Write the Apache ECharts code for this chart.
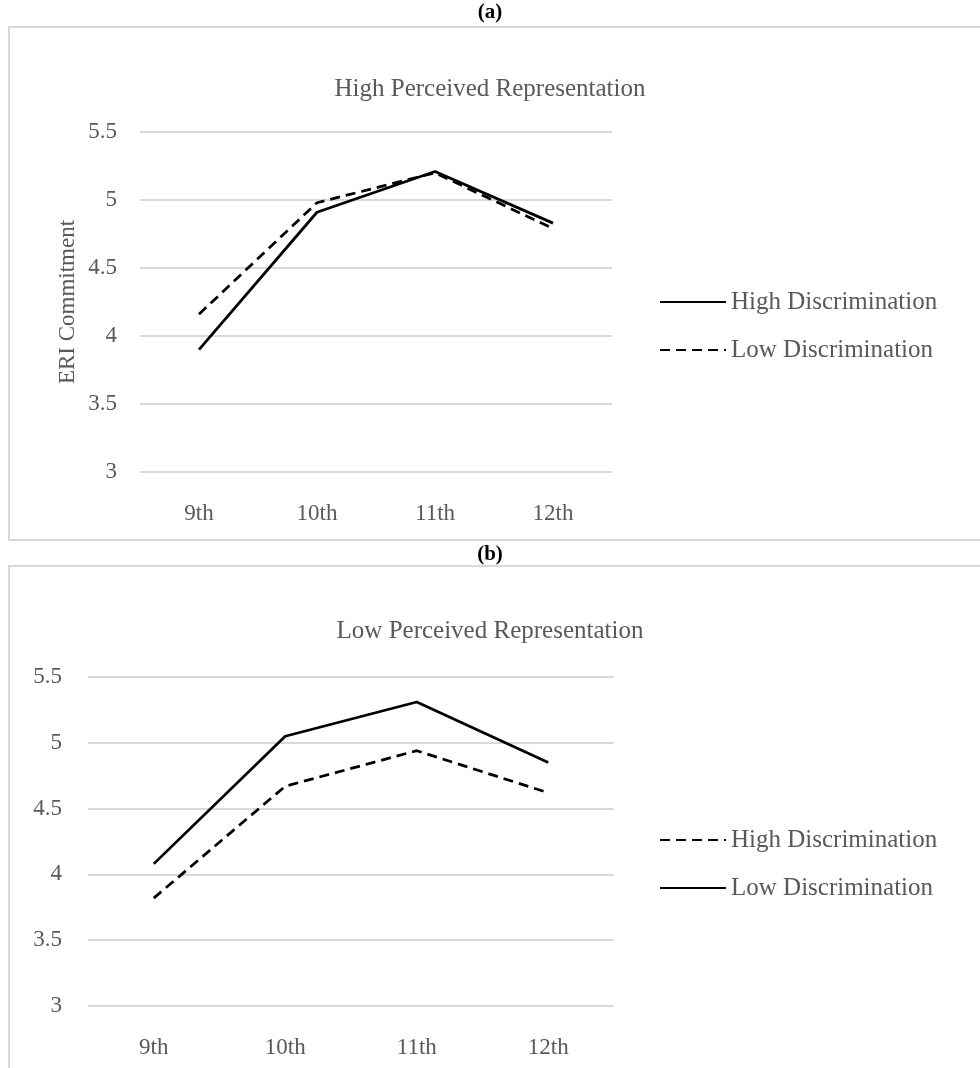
<!DOCTYPE html>
<html>
<head>
<meta charset="utf-8">
<script src="https://cdn.jsdelivr.net/npm/echarts@6/dist/echarts.min.js"></script>
<style>
  html, body { margin: 0; padding: 0; background: #fff; }
  #ca { position: absolute; left: 0; top: 0; width: 980px; height: 545px; }
  #cb { position: absolute; left: 0; top: 545px; width: 980px; height: 523px; }
</style>
</head>
<body>
<div id="ca"></div>
<div id="cb"></div>
<script>
// ---- data ----
const categories = ['9th', '10th', '11th', '12th'];
const seriesNames = ['High Discrimination', 'Low Discrimination'];
// Panel (a): High Perceived Representation
const aHighDisc = [3.90, 4.91, 5.21, 4.83];
const aLowDisc  = [4.16, 4.98, 5.20, 4.79];
// Panel (b): Low Perceived Representation
const bHighDisc = [3.82, 4.67, 4.94, 4.62];
const bLowDisc  = [4.08, 5.05, 5.31, 4.85];
const yMin = 3, yMax = 5.5, yStep = 0.5;

const FONT = '"Liberation Serif", "DejaVu Serif", serif';
const GREY = '#595959';
const GRID = '#d9d9d9';

function solid() { return { color: '#000', width: 2.75, type: 'solid' }; }
function dashed() { return { color: '#000', width: 2.75, type: [10, 6] }; }

function build(o) {
  return {
    animation: false,
    textStyle: { fontFamily: FONT },
    graphic: [{
      type: 'rect',
      shape: { x: 9, y: o.boxTop, width: 1000, height: o.boxH },
      style: { fill: 'none', stroke: GRID, lineWidth: 2 },
      silent: true
    }],
    title: [
      {
        text: '{p|(}{b|' + o.letter + '}{p|)}',
        left: 'center', top: o.letterTop,
        textStyle: {
          rich: {
            p: { fontFamily: FONT, fontSize: 21, color: '#000' },
            b: { fontFamily: FONT, fontSize: 21, fontWeight: 'bold', color: '#000' }
          }
        }
      },
      {
        text: o.title,
        left: 'center', top: o.titleTop,
        textStyle: { fontFamily: FONT, fontSize: 25, fontWeight: 'normal', color: GREY }
      }
    ],
    legend: {
      orient: 'vertical', left: 654, top: o.legendTop,
      itemWidth: 66, itemHeight: 14, itemGap: 22,
      data: o.legendOrder,
      itemStyle: { opacity: 0 },
      textStyle: { fontFamily: FONT, fontSize: 25, color: GREY, lineHeight: 26 }
    },
    grid: { left: o.gridLeft, top: 132, width: o.gridW, height: o.gridH },
    xAxis: {
      type: 'category', data: categories, boundaryGap: true,
      axisLine: { show: false }, axisTick: { show: false },
      axisLabel: { fontFamily: FONT, fontSize: 23, color: GREY, margin: 30 }
    },
    yAxis: {
      type: 'value', min: yMin, max: yMax, interval: yStep,
      axisLine: { show: false }, axisTick: { show: false },
      splitLine: { lineStyle: { color: GRID, width: 2 } },
      axisLabel: { fontFamily: FONT, fontSize: 23, color: GREY, margin: o.yLabelMargin },
      name: o.yName, nameLocation: 'middle', nameGap: 61, nameRotate: 90,
      nameTextStyle: { fontFamily: FONT, fontSize: 23, color: GREY }
    },
    series: [
      { name: seriesNames[0], type: 'line', data: o.high, symbol: 'none', lineStyle: o.highStyle, itemStyle: { color: '#000' } },
      { name: seriesNames[1], type: 'line', data: o.low, symbol: 'none', lineStyle: o.lowStyle, itemStyle: { color: '#000' } }
    ]
  };
}

const ca = echarts.init(document.getElementById('ca'));
ca.setOption(build({
  letter: 'a', letterTop: -3, boxTop: 27, boxH: 513,
  title: 'High Perceived Representation', titleTop: 72,
  legendTop: 284, legendOrder: seriesNames,
  gridLeft: 140, gridW: 472, gridH: 340, yLabelMargin: 23,
  yName: 'ERI Commitment',
  high: aHighDisc, low: aLowDisc, highStyle: solid(), lowStyle: dashed()
}));

const cb = echarts.init(document.getElementById('cb'));
cb.setOption(build({
  letter: 'b', letterTop: -6, boxTop: 21, boxH: 600,
  title: 'Low Perceived Representation', titleTop: 69,
  legendTop: 277, legendOrder: seriesNames,
  gridLeft: 88, gridW: 526, gridH: 329, yLabelMargin: 26,
  yName: '',
  high: bHighDisc, low: bLowDisc, highStyle: dashed(), lowStyle: solid()
}));
</script>
</body>
</html>
